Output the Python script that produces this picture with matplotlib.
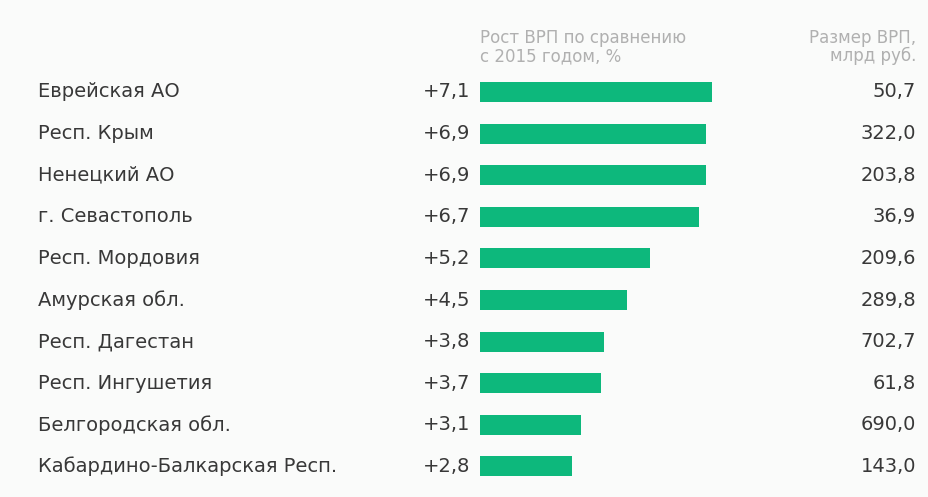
import matplotlib
matplotlib.use("Agg")
import matplotlib.pyplot as plt
from matplotlib.transforms import blended_transform_factory

regions = ["Еврейская АО", "Респ. Крым", "Ненецкий АО", "г. Севастополь",
           "Респ. Мордовия", "Амурская обл.", "Респ. Дагестан",
           "Респ. Ингушетия", "Белгородская обл.", "Кабардино-Балкарская Респ."]
growth = [7.1, 6.9, 6.9, 6.7, 5.2, 4.5, 3.8, 3.7, 3.1, 2.8]
size_grp = [50.7, 322.0, 203.8, 36.9, 209.6, 289.8, 702.7, 61.8, 690.0, 143.0]

plt.rcParams['font.family'] = ['DejaVu Sans']
W, H = 929, 497
bg = "#fafbfa"
fig = plt.figure(figsize=(W/100, H/100), dpi=100, facecolor=bg)

row0, step = 92, 41.6
top = row0 - step/2
bottom = row0 + step*9 + step/2
pxu = 32.7
ax = fig.add_axes([480/W, 1 - bottom/H, 8*pxu/W, (bottom-top)/H])
ax.set_facecolor(bg)
ypos = list(range(len(regions)))
ax.barh(ypos, growth, height=20/step, color="#0db87c", left=0)
ax.set_xlim(0, 8)
ax.set_ylim(len(regions)-0.5, -0.5)
ax.axis("off")

tr = blended_transform_factory(fig.transFigure, ax.transData)
tc = "#383838"
fs = 14
fam = ['DejaVu Sans']
def fmt(v):
    return f"{v:.1f}".replace(".", ",")
for i, (r, g, s) in enumerate(zip(regions, growth, size_grp)):
    ax.text(38/W, i, r, transform=tr, ha="left", va="center", fontsize=fs, color=tc, family=fam)
    ax.text(470/W, i, "+" + fmt(g), transform=tr, ha="right", va="center", fontsize=fs, color=tc, family=fam)
    ax.text(916/W, i, fmt(s), transform=tr, ha="right", va="center", fontsize=fs, color=tc, family=fam)

hc = "#b0b0b0"
fig.text(480/W, 1 - 47/H, "Рост ВРП по сравнению\nс 2015 годом, %", ha="left", va="center",
         fontsize=12, color=hc, linespacing=1.0, family=fam)
fig.text(916/W, 1 - 47/H, "Размер ВРП,\nмлрд руб.", ha="right", va="center",
         fontsize=12, color=hc, linespacing=1.0, multialignment="right", family=fam)

fig.savefig("out.png", dpi=100, facecolor=bg)
